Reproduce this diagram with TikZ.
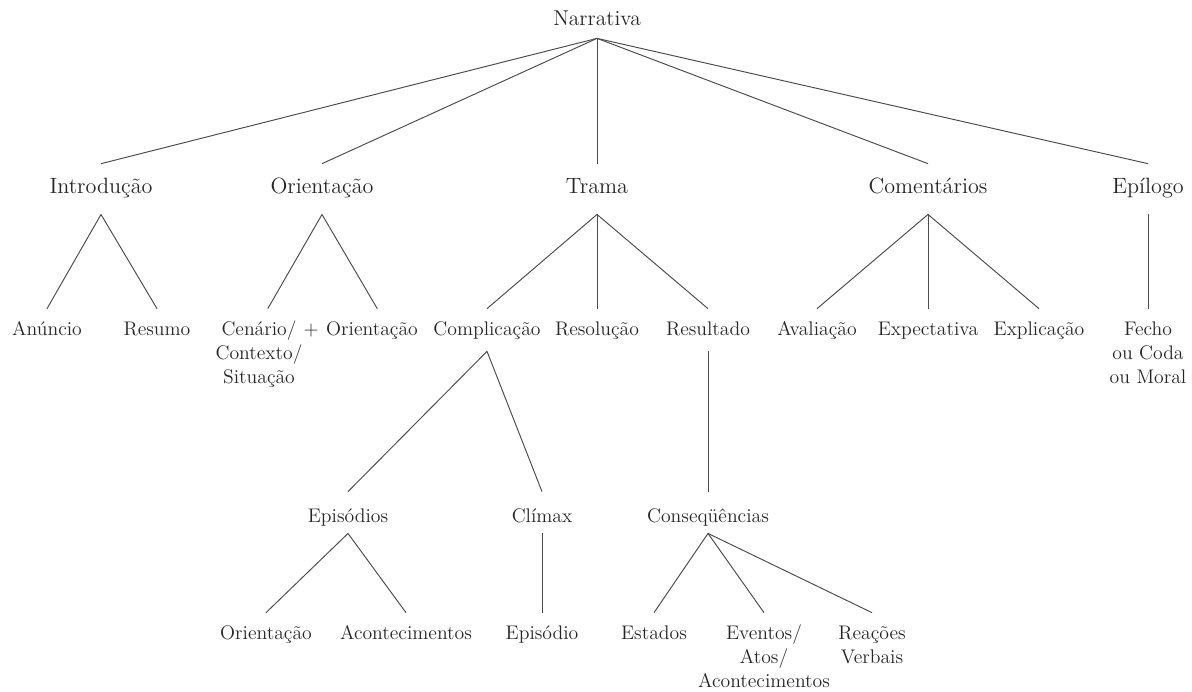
\documentclass[tikz,border=0pt]{standalone}
\usepackage{fontspec}

\tikzset{
  lbl/.style={inner sep=0pt, anchor=base, text=black!85,
    font=\fontsize{11.2}{13.9}\selectfont},
  lvlzero/.style={lbl, font=\fontsize{12.2}{14}\selectfont, text depth=7.4pt},
  lvlone/.style={lbl, font=\fontsize{12.6}{15}\selectfont,
    text height=16.5pt, text depth=12pt},
  lvltwo/.style={lbl, text height=14.8pt, text depth=9.1pt},
  lvlthree/.style={lbl, text height=17.1pt, text depth=6.3pt},
  lvlfour/.style={lbl, text height=14.8pt, text depth=0pt},
  branch/.style={draw=black!70, line width=0.55pt},
}
\newcommand{\textstack}[1]{\begin{tabular}[t]{@{}c@{}}#1\end{tabular}}

\begin{document}
\begin{tikzpicture}[x=0.02cm, y=-0.02cm]
    \useasboundingbox (0,0) rectangle (1192,691);

    % Root
    \node[lvlzero] (narr) at (597,25) {Narrativa};

    % Level 1
    \node[lvlone] (intro)  at (101,193)  {Introdução};
    \node[lvlone] (orient) at (322,193)  {Orientação};
    \node[lvlone] (trama)  at (597,193)  {Trama};
    \node[lvlone] (coment) at (928,193)  {Comentários};
    \node[lvlone] (epil)   at (1148,193) {Epílogo};

    % Level 2
    \node[lvltwo] (anun)    at (47,335)   {Anúncio};
    \node[lvltwo] (resumo)  at (157,335)  {Resumo};
    \node[lvltwo] (cenario) at (259,335)  {\textstack{Cenário/\\Contexto/\\Situação}};
    \node[lvltwo] (mais)    at (311,335)  {+};
    \node[lvltwo] (orientb) at (372,335)  {Orientação};
    \node[lvltwo] (compl)   at (487,335)  {Complicação};
    \node[lvltwo] (resol)   at (597,335)  {Resolução};
    \node[lvltwo] (result)  at (708,335)  {Resultado};
    \node[lvltwo] (aval)    at (817,335)  {Avaliação};
    \node[lvltwo] (expect)  at (928,335)  {Expectativa};
    \node[lvltwo] (explic)  at (1039,335) {Explicação};
    \node[lvltwo] (fecho)   at (1148,335) {\textstack{Fecho\\ou Coda\\ou Moral}};

    % Level 3
    \node[lvlthree] (epis)   at (348,522) {Episódios};
    \node[lvlthree] (climax) at (542,522) {Clímax};
    \node[lvlthree] (conseq) at (708,522) {Conseqüências};

    % Level 4
    \node[lvlfour] (orientc) at (266,639) {Orientação};
    \node[lvlfour] (acont)   at (406,639) {Acontecimentos};
    \node[lvlfour] (episod)  at (542,639) {Episódio};
    \node[lvlfour] (estados) at (654,639) {Estados};
    \node[lvlfour] (eventos) at (764,639) {\textstack{Eventos/\\Atos/\\Acontecimentos}};
    \node[lvlfour] (reacoes) at (872,639) {\textstack{Reações\\Verbais}};

    % Branches
    \foreach \kid in {intro,orient,trama,coment,epil}
        \draw[branch] (narr.south) -- (\kid.north);
    \foreach \kid in {anun,resumo}
        \draw[branch] (intro.south) -- (\kid.north);
    \draw[branch] (orient.south) -- ([xshift=5pt]cenario.north);
    \draw[branch] (orient.south) -- ([xshift=3pt]orientb.north);
    \foreach \kid in {compl,resol,result}
        \draw[branch] (trama.south) -- (\kid.north);
    \foreach \kid in {aval,expect,explic}
        \draw[branch] (coment.south) -- (\kid.north);
    \draw[branch] (epil.south) -- (fecho.north);
    \foreach \kid in {epis,climax}
        \draw[branch] (compl.south) -- (\kid.north);
    \draw[branch] (result.south) -- (conseq.north);
    \foreach \kid in {orientc,acont}
        \draw[branch] (epis.south) -- (\kid.north);
    \draw[branch] (climax.south) -- (episod.north);
    \foreach \kid in {estados,eventos,reacoes}
        \draw[branch] (conseq.south) -- (\kid.north);
\end{tikzpicture}
\end{document}
